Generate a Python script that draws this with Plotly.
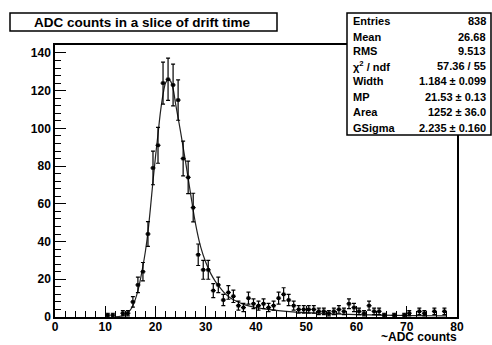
import plotly.graph_objects as go

# ---- data ----
bin_centers = [10.5, 11.5, 13.5, 14.5, 15.5, 16.5, 17.5, 18.5, 19.5, 20.5,
               21.5, 22.5, 23.5, 24.5, 25.5, 26.5, 27.5, 28.5, 29.5, 30.5,
               31.5, 32.5, 33.5, 34.5, 35.5, 36.5, 37.5, 38.5, 39.5, 40.5,
               41.5, 42.5, 43.5, 44.5, 45.5, 46.5, 47.5, 48.5, 49.5, 50.5,
               51.5, 52.5, 53.5, 54.5, 55.5, 56.5, 57.5, 58.5, 59.5, 60.5,
               61.5, 62.5, 63.5, 64.5, 65.5, 67.5, 69.5, 70.5, 72.5, 73.5,
               75.5, 77.5]
counts = [1, 1, 2, 2, 8, 17, 24, 44, 79, 91,
          124, 126, 123, 115, 84, 74, 58, 33, 25, 25,
          14, 17, 9, 13, 11, 6, 5, 10, 7, 6,
          7, 5, 6, 10, 12, 9, 6, 4, 4, 4,
          4, 3, 3, 2, 3, 4, 3, 7, 5, 3,
          2, 6, 3, 3, 1, 1, 1, 2, 3, 2,
          3, 3]
count_errors = [1.0, 1.0, 1.4, 1.4, 2.8, 4.1, 4.9, 6.6, 8.9, 9.5,
                11.1, 11.2, 11.1, 10.7, 9.2, 8.6, 7.6, 5.7, 5.0, 5.0,
                3.7, 4.1, 3.0, 3.6, 3.3, 2.4, 2.2, 3.2, 2.6, 2.4,
                2.6, 2.2, 2.4, 3.2, 3.5, 3.0, 2.4, 2.0, 2.0, 2.0,
                2.0, 1.7, 1.7, 1.4, 1.7, 2.0, 1.7, 2.6, 2.2, 1.7,
                1.4, 2.4, 1.7, 1.7, 1.0, 1.0, 1.0, 1.4, 1.7, 1.4,
                1.7, 1.7]
bin_half_width = 0.5

fit_x = [12, 13, 14, 14.5, 15, 15.5, 16, 16.5, 17, 17.5, 18, 18.5, 19, 19.5,
         20, 20.5, 21, 21.5, 22, 22.5, 23, 23.5, 24, 25, 26, 27, 28, 29, 30,
         31, 32, 33, 34, 35, 36, 37, 38, 40, 42, 44, 46, 50, 55, 60, 65, 70,
         75, 78]
fit_y = [0.1, 0.4, 1.3, 2.3, 3.8, 6, 9.5, 14, 20, 27, 35, 45, 58, 72,
         85, 97, 109, 118, 124, 126, 125, 121, 113, 98, 82, 65, 49, 37, 29,
         23, 18.5, 15, 12, 10, 8.5, 7.3, 6.3, 5, 4.2, 3.5, 3, 2.3, 1.7, 1.3,
         1.0, 0.8, 0.65, 0.6]

title_text = "ADC counts in a slice of drift time"
x_title = "~ADC counts"
stat_labels = ["Entries", "Mean", "RMS", "χ<sup>2</sup> / ndf", "Width", "MP", "Area", "GSigma"]
stat_values = ["838", "26.68", "9.513", "57.36 / 55", "1.184 ± 0.099",
               "21.53 ± 0.13", "1252 ± 36.0", "2.235 ± 0.160"]
x_ticks = [0, 10, 20, 30, 40, 50, 60, 70, 80]
y_ticks = [0, 20, 40, 60, 80, 100, 120, 140]

# ---- layout geometry (pixels) ----
W, H = 492, 345
L, R, T, B = 55, 457, 45, 317


def px(xp):
    return (xp - L) / (R - L)


def py(yp):
    return (B - yp) / (B - T)


FONT = "Liberation Sans"

fig = go.Figure()
fig.add_trace(go.Scatter(
    x=fit_x, y=fit_y, mode="lines", line=dict(color="#222222", width=1.2, shape="spline"),
    hoverinfo="skip", showlegend=False))
fig.add_trace(go.Scatter(
    x=bin_centers, y=counts, mode="markers",
    marker=dict(symbol="square", size=3.5, color="black"),
    error_y=dict(type="data", array=count_errors, visible=True, color="black", thickness=1.2, width=2),
    error_x=dict(type="constant", value=bin_half_width, visible=True, color="black", thickness=1.2, width=0),
    showlegend=False))

fig.update_layout(
    width=W, height=H,
    margin=dict(l=L, r=W - R, t=T, b=H - B, autoexpand=False),
    paper_bgcolor="white", plot_bgcolor="white",
    font=dict(family=FONT, size=12, color="black"),
    xaxis=dict(range=[0, 80], tickvals=x_ticks, ticks="inside", ticklen=11, tickwidth=1,
               tickcolor="black", showline=True, linecolor="black", linewidth=1.5, mirror=True,
               showgrid=False, zeroline=False, automargin=False, ticklabelstandoff=-2,
               tickfont=dict(family=FONT, size=12, weight="bold"),
               minor=dict(ticks="inside", dtick=2, ticklen=6, tickcolor="black", tickwidth=1, showgrid=False)),
    yaxis=dict(range=[0, 144.2], tickvals=y_ticks, ticks="inside", ticklen=11, tickwidth=1,
               tickcolor="black", showline=True, linecolor="black", linewidth=1.5, mirror=True,
               showgrid=False, zeroline=False, automargin=False,
               tickfont=dict(family=FONT, size=12, weight="bold"),
               minor=dict(ticks="inside", dtick=4, ticklen=6, tickcolor="black", tickwidth=1, showgrid=False)),
)

# title box
fig.add_shape(type="rect", xref="paper", yref="paper",
              x0=px(10), x1=px(277), y0=py(31), y1=py(13),
              line=dict(color="black", width=1.5), fillcolor="white", layer="above")
fig.add_annotation(xref="paper", yref="paper", x=px(142), y=py(22), text="<b>" + title_text + "</b>",
                   showarrow=False, font=dict(family=FONT, size=13.5), xanchor="center", yanchor="middle")

# stats box
fig.add_shape(type="rect", xref="paper", yref="paper",
              x0=px(347), x1=px(491), y0=py(135), y1=py(13),
              line=dict(color="black", width=1.5), fillcolor="white", layer="above")
row_y = [20.7, 36.5, 50.5, 66, 81.3, 96.7, 112.3, 127.7]
for lab, val, yy in zip(stat_labels, stat_values, row_y):
    fig.add_annotation(xref="paper", yref="paper", x=px(351), y=py(yy), text="<b>" + lab + "</b>",
                       showarrow=False, font=dict(family=FONT, size=11), xanchor="left", yanchor="middle")
    fig.add_annotation(xref="paper", yref="paper", x=px(488), y=py(yy), text="<b>" + val + "</b>",
                       showarrow=False, font=dict(family=FONT, size=11), xanchor="right", yanchor="middle")

# x-axis title, right aligned
fig.add_annotation(xref="paper", yref="paper", x=px(458), y=py(345), text="<b>" + x_title + "</b>",
                   showarrow=False, font=dict(family=FONT, size=12), xanchor="right", yanchor="bottom",
                   borderpad=0)

fig.write_html("out.html", config={"displayModeBar": False},
               post_script="document.body.style.margin='0';document.body.style.overflow='hidden';")
